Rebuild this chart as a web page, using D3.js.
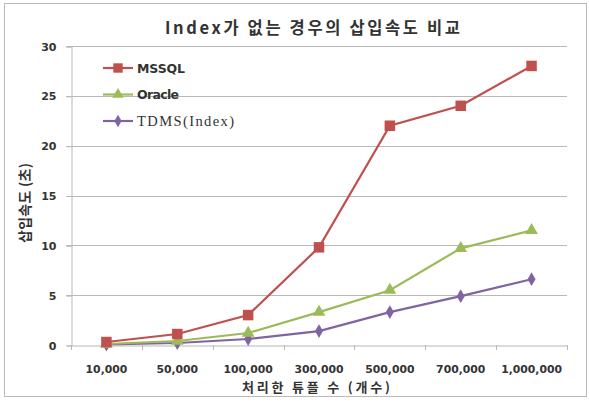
<!DOCTYPE html>
<html>
<head>
<meta charset="utf-8">
<script src="https://cdn.jsdelivr.net/npm/d3@7"></script>
<style>
  body { margin: 0; background: #fff; }
  text { font-family: "Noto Sans CJK KR", "Noto Sans", sans-serif; fill: #333; }
</style>
</head>
<body>
<script>
// categories on the x axis
var categories = ["10,000", "50,000", "100,000", "300,000", "500,000", "700,000", "1,000,000"];
// insert time in seconds
var mssql = [0.3, 1.1, 3.0, 9.8, 22.0, 24.0, 28.0];
var oracle = [0.1, 0.4, 1.2, 3.3, 5.5, 9.7, 11.5];
var tdms = [0.05, 0.2, 0.6, 1.4, 3.3, 4.9, 6.6];
var yTicks = [0, 5, 10, 15, 20, 25, 30];
var seriesNames = ["MSSQL", "Oracle", "TDMS(Index)"];

var W = 589, H = 410;
// note: "top" is taken by window.top, so the plot edges get their own names
var plotL = 71, plotR = 567, plotT = 46, plotB = 345;
var tickFont = "\"DejaVu Sans\", sans-serif";

var svg = d3.select("body").append("svg")
	.attr("width", W)
	.attr("height", H);

// outer frame
svg.append("rect")
	.attr("x", 4.5).attr("y", 3.5)
	.attr("width", 582).attr("height", 393)
	.attr("fill", "#fff")
	.attr("stroke", "#bbb")
	.attr("stroke-width", 1);

var x = d3.scaleBand().domain(categories).range([plotL, plotR]);
var y = d3.scaleLinear().domain([0, 30]).range([plotB, plotT]);

// gridlines
svg.append("g").selectAll("line")
	.data(yTicks.filter(function(d){ return d > 0; }))
	.join("line")
	.attr("x1", plotL - 5).attr("x2", plotR)
	.attr("y1", function(d){ return Math.round(y(d)) + 0.5; })
	.attr("y2", function(d){ return Math.round(y(d)) + 0.5; })
	.attr("stroke", "#b8b8b8")
	.attr("stroke-width", 1.2);

// y axis
var yAxis = svg.append("g")
	.attr("transform", "translate(" + (plotL + 0.5) + ",0.5)")
	.call(d3.axisLeft(y).tickValues(yTicks).tickSize(5).tickPadding(10));
yAxis.select(".domain").attr("stroke", "#b8b8b8");
yAxis.selectAll(".tick line").attr("stroke", "#b8b8b8");
yAxis.selectAll(".tick text")
	.style("font-family", tickFont)
	.style("font-size", "11px")
	.style("font-weight", "bold")
	.attr("fill", "#555");

// x axis
var xAxis = svg.append("g")
	.attr("transform", "translate(0," + (plotB + 0.5) + ")")
	.call(d3.axisBottom(x).tickSize(0).tickPadding(20));
xAxis.select(".domain").attr("stroke", "#b8b8b8");
xAxis.selectAll(".tick text")
	.style("font-family", tickFont)
	.style("font-size", "10.8px")
	.style("font-weight", "bold")
	.attr("fill", "#555");
// tick marks between categories
svg.append("g").selectAll("line")
	.data(categories.concat(["end"]))
	.join("line")
	.attr("x1", function(d, i){ return Math.round(plotL + i * x.step()) + 0.5; })
	.attr("x2", function(d, i){ return Math.round(plotL + i * x.step()) + 0.5; })
	.attr("y1", plotB)
	.attr("y2", plotB + 5)
	.attr("stroke", "#b8b8b8");

// title
svg.append("text")
	.attr("x", 165).attr("y", 34)
	.attr("textLength", 295)
	.attr("lengthAdjust", "spacing")
	.style("font-size", "16.5px")
	.style("font-weight", "bold")
	.attr("fill", "#222")
	.text("Index가 없는 경우의 삽입속도 비교");

// axis titles
svg.append("text")
	.attr("x", 242).attr("y", 392)
	.attr("textLength", 148)
	.attr("lengthAdjust", "spacing")
	.style("font-size", "13px")
	.style("font-weight", "bold")
	.attr("fill", "#444")
	.text("처리한 튜플 수 (개수)");

svg.append("text")
	.attr("transform", "translate(30,243) rotate(-90)")
	.attr("textLength", 80)
	.attr("lengthAdjust", "spacing")
	.style("font-size", "14px")
	.style("font-weight", "bold")
	.attr("fill", "#444")
	.text("삽입속도 (초)");

var series = [
	{name: seriesNames[0], values: mssql, color: "#C0504D", shape: d3.symbolSquare, size: 110, w: 48},
	{name: seriesNames[1], values: oracle, color: "#9BBB59", shape: d3.symbolTriangle, size: 70, w: 42},
	{name: seriesNames[2], values: tdms, color: "#8064A2", shape: d3.symbolDiamond, size: 55, w: 97}
];

var line = d3.line()
	.x(function(d, i){ return x(categories[i]) + x.bandwidth() / 2; })
	.y(function(d){ return y(d); });

// draw from back to front: TDMS, Oracle, MSSQL
series.slice().reverse().forEach(function(s){
	svg.append("path")
		.datum(s.values)
		.attr("d", line)
		.attr("fill", "none")
		.attr("stroke", s.color)
		.attr("stroke-width", 2.2);
	svg.append("g").selectAll("path")
		.data(s.values)
		.join("path")
		.attr("transform", function(d, i){
			return "translate(" + (x(categories[i]) + x.bandwidth() / 2) + "," + y(d) + ")";
		})
		.attr("d", d3.symbol().type(s.shape).size(s.size))
		.attr("fill", s.color);
});

// legend
var legend = svg.append("g");
series.forEach(function(s, i){
	var ly = 68 + i * 26.5;
	legend.append("line")
		.attr("x1", 103).attr("x2", 133)
		.attr("y1", ly).attr("y2", ly)
		.attr("stroke", s.color)
		.attr("stroke-width", 2.2);
	legend.append("path")
		.attr("transform", "translate(118," + ly + ")")
		.attr("d", d3.symbol().type(s.shape).size(s.size * 0.8))
		.attr("fill", s.color);
	legend.append("text")
		.attr("x", 137).attr("y", ly + 4.5)
		.attr("textLength", s.w)
		.attr("lengthAdjust", "spacing")
		.style("font-size", i == 2 ? "14.5px" : "12.5px")
		.style("font-weight", i == 2 ? "normal" : "bold")
		.style("font-family", i == 2 ? "\"Liberation Serif\", serif" : "\"DejaVu Sans\", sans-serif")
		.attr("fill", "#333")
		.text(s.name);
});
</script>
</body>
</html>
